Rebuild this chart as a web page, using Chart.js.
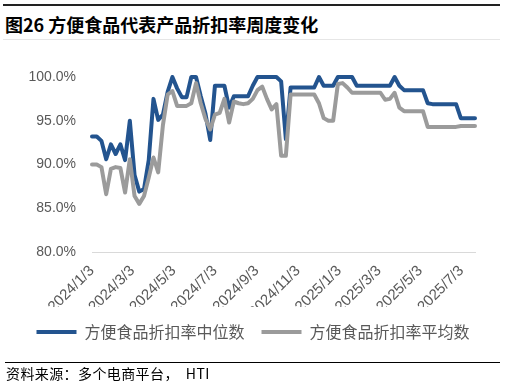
<!DOCTYPE html>
<html>
<head>
<meta charset="utf-8">
<script src="https://cdn.jsdelivr.net/npm/chart.js@4.4.1/dist/chart.umd.min.js"></script>
<style>
  html, body { margin: 0; padding: 0; background: #fff; }
  body { width: 506px; height: 387px; position: relative; overflow: hidden; }
  #wrap { position: absolute; left: 0; top: 0; width: 506px; height: 387px; }
  #title { position: absolute; left: 5px; top: 12px; font: bold 18px "Noto Sans CJK SC", sans-serif; color: #000; line-height: 24px; white-space: nowrap; }
  #topline { position: absolute; left: 3px; top: 4px; width: 497px; height: 2px; background: #222; }
  #subline { position: absolute; left: 3px; top: 39px; width: 497px; height: 1px; background: #e6e6e6; }
  #footline { position: absolute; left: 5px; top: 362px; width: 495px; height: 1px; background: #000; }
  #source { position: absolute; left: 6px; top: 364px; font: 14px "Noto Sans CJK SC", sans-serif; letter-spacing: 0.4px; color: #000; line-height: 18px; white-space: pre; }
  canvas { position: absolute; left: 0; top: 0; }
</style>
</head>
<body>
<div id="wrap">
  <div id="topline"></div>
  <div id="title">图26 方便食品代表产品折扣率周度变化</div>
  <div id="subline"></div>
  <canvas id="c" width="506" height="387"></canvas>
  <div id="footline"></div>
  <div id="source">资料来源：多个电商平台，  HTI</div>
</div>
<script>
// ---- data ----
const startDate = '2024/1/3';          // first weekly observation
const weekStepDays = 7;                 // weekly series
const seriesNames = ['方便食品折扣率中位数', '方便食品折扣率平均数'];
const medianVals = [
  93.2, 93.2, 92.7, 90.6, 92.3, 91.2, 92.3, 90.5, 95.0, 88.8,
  86.9, 87.2, 90.5, 97.5, 95.1, 95.7, 98.3, 100, 98.7, 97.7,
  97.7, 100, 100, 97.8, 95.8, 92.8, 99.0, 99.0, 99.0, 96.5,
  97.8, 97.8, 97.8, 97.8, 99.0, 100, 100, 100, 100, 100,
  99.5, 92.9, 98.8, 98.8, 98.8, 98.8, 98.8, 98.8, 100, 99.0,
  99.0, 99.0, 100, 100, 100, 100, 99.0, 99.0, 99.0, 99.0,
  99.0, 99.0, 99.0, 99.0, 100, 99.0, 98.5, 98.5, 98.5, 98.5,
  98.5, 97.0, 96.9, 96.9, 96.9, 96.9, 96.9, 96.9, 95.3, 95.3,
  95.3, 95.3
];
const meanVals = [
  90.0, 90.0, 89.7, 86.6, 89.5, 89.7, 89.6, 86.8, 90.6, 86.4,
  85.5, 86.4, 88.5, 90.8, 89.1, 94.5, 98.0, 98.4, 96.7, 96.7,
  96.7, 97.0, 99.3, 97.0, 95.2, 94.0, 95.7, 95.9, 97.5, 94.8,
  97.2, 97.0, 96.9, 97.0, 97.5, 98.5, 98.9, 97.5, 96.3, 96.9,
  91.0, 91.0, 98.0, 98.0, 98.0, 98.0, 98.0, 98.0, 97.0, 95.3,
  95.0, 95.0, 99.2, 99.3, 98.8, 98.2, 98.2, 98.2, 98.2, 98.2,
  98.2, 98.2, 97.4, 97.5, 98.2, 96.5, 96.1, 96.1, 96.1, 96.1,
  96.1, 94.3, 94.3, 94.3, 94.3, 94.3, 94.3, 94.3, 94.4, 94.4,
  94.4, 94.4
];
const xTickLabels = ['2024/1/3','2024/3/3','2024/5/3','2024/7/3','2024/9/3','2024/11/3','2025/1/3','2025/3/3','2025/5/3','2025/7/3'];
const yTicks = [80, 85, 90, 95, 100];

// ---- helpers ----
function toUTC(s) { const [y, m, d] = s.split('/').map(Number); return Date.UTC(y, m - 1, d); }
const DAY = 86400000;
const t0 = toUTC(startDate);
const dayOf = s => Math.round((toUTC(s) - t0) / DAY);
const tickDays = xTickLabels.map(dayOf);
const toPts = arr => arr.map((v, i) => ({ x: i * weekStepDays, y: v }));
const lastDay = (medianVals.length - 1) * weekStepDays;

const fam = '"Liberation Sans", Arial, sans-serif';

// centre the legend on the whole canvas rather than on the padded box
const centerLegend = {
  id: 'centerLegend',
  afterLayout(chart) {
    const lg = chart.legend;
    if (!lg) return;
    const shift = chart.width / 2 - (lg.left + lg.right) / 2;
    lg.left += shift;
    lg.right += shift;
  }
};

new Chart(document.getElementById('c'), {
  type: 'line',
  plugins: [centerLegend],
  data: {
    datasets: [
      { label: seriesNames[0], data: toPts(medianVals), borderColor: '#23548f', backgroundColor: '#23548f',
        borderWidth: 4, pointRadius: 0, tension: 0, borderJoinStyle: 'round', borderCapStyle: 'round', order: 1, clip: false },
      { label: seriesNames[1], data: toPts(meanVals), borderColor: '#9b9b9b', backgroundColor: '#9b9b9b',
        borderWidth: 4, pointRadius: 0, tension: 0, borderJoinStyle: 'round', borderCapStyle: 'round', order: 0, clip: false }
    ]
  },
  options: {
    responsive: false,
    animation: false,
    devicePixelRatio: 1,
    layout: { padding: { top: 77, right: 31, left: 0, bottom: 37 } },
    plugins: {
      title: { display: false },
      tooltip: { enabled: false },
      legend: {
        position: 'bottom',
        reverse: true,
        labels: {
          usePointStyle: true,
          pointStyle: 'line',
          pointStyleWidth: 40,
          color: '#595959',
          font: { family: '"Noto Sans CJK SC", sans-serif', size: 16 },
          padding: 17
        }
      }
    },
    scales: {
      x: {
        type: 'linear',
        min: 0,
        max: lastDay,
        grid: { display: false, drawTicks: false },
        border: { display: true, color: '#d9d9d9', width: 1 },
        afterBuildTicks: s => { s.ticks = tickDays.map(v => ({ value: v })); },
        afterFit: s => { s.height = 55; },
        ticks: {
          autoSkip: false,
          minRotation: 45,
          maxRotation: 45,
          padding: 10,
          color: '#595959',
          font: { family: fam, size: 15 },
          callback: (v, i) => xTickLabels[i]
        }
      },
      y: {
        min: 80,
        max: 100,
        grid: { display: false, drawTicks: false },
        border: { display: false },
        afterBuildTicks: s => { s.ticks = yTicks.map(v => ({ value: v })); },
        afterFit: s => { s.width = 92; },
        ticks: {
          padding: 16,
          color: '#595959',
          font: { family: fam, size: 14 },
          callback: v => v.toFixed(1) + '%'
        }
      }
    }
  }
});
</script>
</body>
</html>
